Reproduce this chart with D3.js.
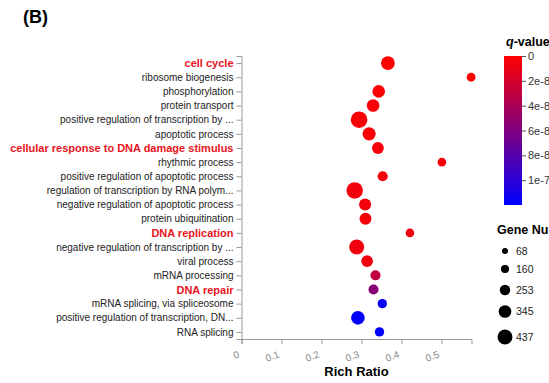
<!DOCTYPE html>
<html><head><meta charset="utf-8">
<script src="https://cdn.jsdelivr.net/npm/d3@7"></script>
<style>body{margin:0;background:#fff}svg{display:block;font-family:"Liberation Sans",Arial,sans-serif}</style>
</head><body>
<svg id="c" width="549" height="383"></svg>
<script>
const terms = ["cell cycle","ribosome biogenesis","phosphorylation","protein transport","positive regulation of transcription by ...","apoptotic process","cellular response to DNA damage stimulus","rhythmic process","positive regulation of apoptotic process","regulation of transcription by RNA polym...","negative regulation of apoptotic process","protein ubiquitination","DNA replication","negative regulation of transcription by ...","viral process","mRNA processing","DNA repair","mRNA splicing, via spliceosome","positive regulation of transcription, DN...","RNA splicing"];
const highlighted = ["cell cycle","cellular response to DNA damage stimulus","DNA replication","DNA repair"];
const richRatio = [0.366,0.574,0.343,0.329,0.294,0.319,0.341,0.501,0.353,0.283,0.309,0.310,0.421,0.288,0.314,0.335,0.330,0.352,0.291,0.345];
const geneNumber = [335,150,290,290,437,310,260,140,200,430,270,265,140,380,255,195,195,170,330,170];
const qValue = [0,1e-9,2e-9,2e-9,3e-9,3e-9,4e-9,4e-9,4e-9,5e-9,5e-9,5e-9,8e-9,7e-9,7e-9,2.9e-8,5.5e-8,1.17e-7,1.19e-7,1.2e-7];
const xTicks = [0,0.1,0.2,0.3,0.4,0.5];
const qTicks = [0,2e-8,4e-8,6e-8,8e-8,1e-7];
const qTickLabels = ["0","2e-8","4e-8","6e-8","8e-8","1e-7"];
const sizeTicks = [68,160,253,345,437];

const svg = d3.select("#c");
const x = d3.scaleLinear().domain([0,0.575]).range([241.5,471.5]);
const y = d3.scalePoint().domain(terms).range([56,339]).padding(0.5);
const r = d3.scaleLinear().domain([68,437]).range([3.3,8.3]);
const qMax = 1.2e-7;
const color = d3.scaleLinear().domain([0,qMax]).range(["#ff0000","#0000ff"]);

svg.append("text").attr("x",23).attr("y",23).attr("font-size",18).attr("font-weight","bold").text("(B)");

// y axis
const ya = svg.append("g").attr("transform","translate(241.5,0)").call(d3.axisLeft(y).tickSize(5).tickSizeOuter(5));
ya.select(".domain").attr("stroke","#999");
ya.selectAll(".tick line").attr("stroke","#999");
ya.selectAll(".tick text").attr("font-family","Liberation Sans, Arial, sans-serif")
  .attr("font-size",d=>highlighted.includes(d)?11:10)
  .attr("font-weight",d=>highlighted.includes(d)?"bold":"normal")
  .attr("fill",d=>highlighted.includes(d)?"#e8141e":"#222").attr("x",-8);

// x axis
const xa = svg.append("g").attr("transform","translate(0,339)").call(d3.axisBottom(x).tickValues(xTicks).tickSize(5).tickSizeOuter(5).tickFormat(d3.format("")));
xa.select(".domain").attr("stroke","#999");
xa.selectAll(".tick line").attr("stroke","#999");
xa.selectAll(".tick text").attr("font-family","Liberation Sans, Arial, sans-serif").attr("font-size",10).attr("fill","#888")
  .attr("text-anchor","end").attr("y",0).attr("dy",0)
  .attr("transform","translate(-2,18) rotate(-20)");

svg.append("text").attr("x",356.5).attr("y",376).attr("text-anchor","middle").attr("font-size",13).attr("font-weight","bold").text("Rich Ratio");

// dots
const data = terms.map((t,i)=>({t,x:richRatio[i],n:geneNumber[i],q:qValue[i]}));
svg.append("g").selectAll("circle").data(data.slice().sort((a,b)=>b.n-a.n)).join("circle")
  .attr("cx",d=>x(d.x)).attr("cy",d=>y(d.t)).attr("r",d=>r(d.n)).attr("fill",d=>color(d.q));

// colorbar
const defs = svg.append("defs");
const grad = defs.append("linearGradient").attr("id","qg").attr("x1",0).attr("y1",0).attr("x2",0).attr("y2",1);
d3.range(0,1.0001,0.1).forEach(t=>grad.append("stop").attr("offset",t).attr("stop-color",color(t*qMax)));
const cy = d3.scaleLinear().domain([0,qMax]).range([56,205]);
svg.append("text").attr("x",506).attr("y",46).attr("font-size",12.5).attr("font-weight","bold")
  .call(t=>{t.append("tspan").attr("font-style","italic").text("q");t.append("tspan").text("-value");});
svg.append("rect").attr("x",504).attr("y",56).attr("width",18).attr("height",149).attr("fill","url(#qg)");
const ca = svg.append("g").attr("transform","translate(522,0)").call(d3.axisRight(cy).tickValues(qTicks).tickSize(4).tickSizeOuter(0).tickFormat((d,i)=>qTickLabels[i]));
ca.select(".domain").remove();
ca.selectAll(".tick line").attr("stroke","#555");
ca.selectAll(".tick text").attr("font-family","Liberation Sans, Arial, sans-serif").attr("font-size",11).attr("fill","#333").attr("x",6);

// size legend
svg.append("text").attr("x",497).attr("y",234).attr("font-size",12.5).attr("font-weight","bold").text("Gene Number");
const ly = [251,269,290,311.5,337];
const lg = svg.append("g").selectAll("g").data(sizeTicks).join("g").attr("transform",(d,i)=>`translate(505,${ly[i]})`);
lg.append("circle").attr("r",d=>r(d)*0.9).attr("fill","#000");
lg.append("text").attr("x",11).attr("dy","0.35em").attr("font-size",10.5).attr("fill","#222").text(d=>d);
</script>
</body></html>
